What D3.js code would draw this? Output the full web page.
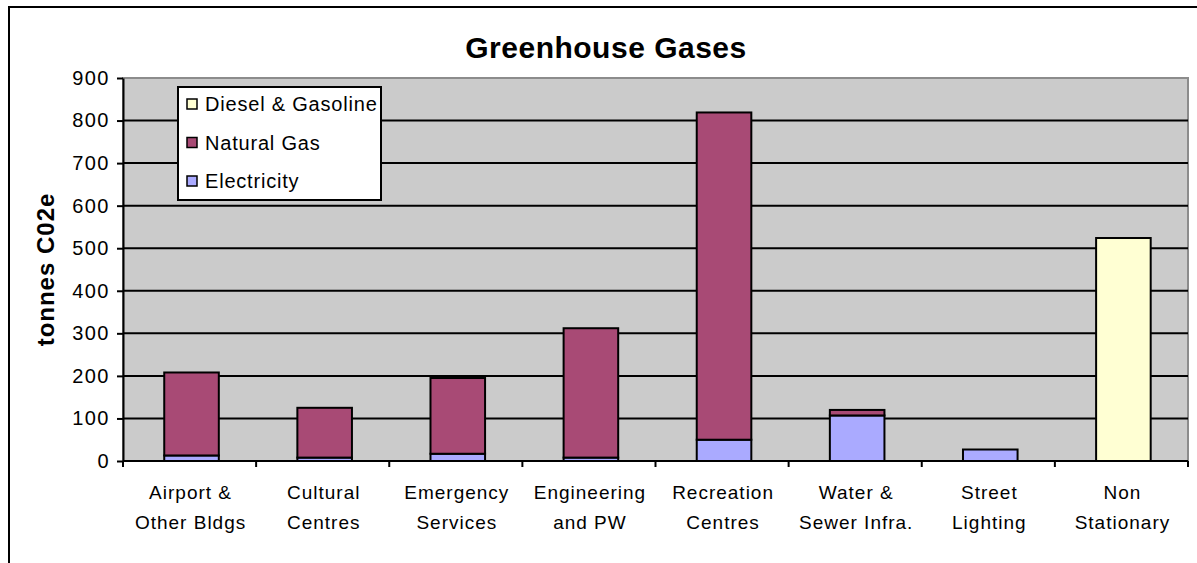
<!DOCTYPE html>
<html lang="en">
  <head>
    <meta charset="UTF-8" />
    <title>Greenhouse Gases</title>
    <style>
      body {
        margin: 0;
        background: #fff;
        font-family: "Liberation Sans", Arial, sans-serif;
      }
      .axis text {
        font-size: 19px;
        letter-spacing: 1px;
        fill: #000;
        font-family: "Liberation Sans", Arial, sans-serif;
      }
      .y-axis text {
        font-size: 20px;
        letter-spacing: 1.5px;
      }
      .axis path,
      .axis line {
        stroke: #000;
        stroke-width: 2px;
      }
    </style>
  </head>
  <body>
    <div class="chart"></div>
    <script src="https://d3js.org/d3.v7.min.js"></script>
    <script>
      // data
      var categories = [
        ["Airport &", "Other Bldgs"],
        ["Cultural", "Centres"],
        ["Emergency", "Services"],
        ["Engineering", "and PW"],
        ["Recreation", "Centres"],
        ["Water &", "Sewer Infra."],
        ["Street", "Lighting"],
        ["Non", "Stationary"]
      ];
      var electricity = [13, 8, 17, 8, 50, 107, 27, 0];
      var naturalGas = [195, 117, 178, 304, 769, 13, 0, 0];
      var dieselGasoline = [0, 0, 0, 0, 0, 0, 0, 524];
      var seriesNames = ["Electricity", "Natural Gas", "Diesel & Gasoline"];
      var seriesColors = ["#aaaaff", "#a84a75", "#ffffd3"];
      var yTicks = [0, 100, 200, 300, 400, 500, 600, 700, 800, 900];

      var W = 1197, H = 563;
      var margin = { top: 78, right: 9, bottom: 102, left: 123 };
      var width = W - margin.left - margin.right,
        height = H - margin.top - margin.bottom;

      var svg = d3
        .select(".chart")
        .append("svg")
        .attr("width", W)
        .attr("height", H);

      // outer chart border (runs off the right/bottom edges)
      svg
        .append("rect")
        .attr("x", 9)
        .attr("y", 7)
        .attr("width", W + 20)
        .attr("height", H + 20)
        .attr("fill", "none")
        .attr("stroke", "#000")
        .attr("stroke-width", 2);

      var g = svg
        .append("g")
        .attr("transform", "translate(" + margin.left + "," + margin.top + ")");

      var table = categories.map(function (c, i) {
        return {
          key: i,
          "Electricity": electricity[i],
          "Natural Gas": naturalGas[i],
          "Diesel & Gasoline": dieselGasoline[i]
        };
      });
      var stack = d3.stack().keys(seriesNames)(table);

      var x = d3
        .scaleBand()
        .domain(d3.range(categories.length))
        .range([0, width])
        .paddingInner(0.59)
        .paddingOuter(0.295)
        .align(0.525);
      var y = d3.scaleLinear().domain([0, 900]).range([height, 0]);
      var z = d3.scaleOrdinal().domain(seriesNames).range(seriesColors);

      // plot area
      g.append("rect")
        .attr("width", width)
        .attr("height", height)
        .attr("fill", "#cbcbcb")
        .attr("stroke", "#8c8c8c")
        .attr("stroke-width", 2);

      // gridlines
      g.selectAll(".grid")
        .data(yTicks.filter(function (d) { return d > 0 && d < 900; }))
        .enter()
        .append("line")
        .attr("x1", 0)
        .attr("x2", width)
        .attr("y1", function (d) { return y(d); })
        .attr("y2", function (d) { return y(d); })
        .attr("stroke", "#000")
        .attr("stroke-width", 2);

      // bars
      g.selectAll(".series")
        .data(stack)
        .enter()
        .append("g")
        .attr("class", "series")
        .attr("fill", function (d) { return z(d.key); })
        .selectAll("rect")
        .data(function (d) { return d.filter(function (s) { return s[1] > s[0]; }); })
        .enter()
        .append("rect")
        .attr("x", function (d) { return x(d.data.key); })
        .attr("y", function (d) { return y(d[1]); })
        .attr("width", x.bandwidth())
        .attr("height", function (d) { return y(d[0]) - y(d[1]); })
        .attr("stroke", "#000")
        .attr("stroke-width", 2);

      // y axis
      g.append("g")
        .attr("class", "axis y-axis")
        .call(d3.axisLeft(y).tickValues(yTicks).tickSize(6).tickSizeOuter(0).tickPadding(7));

      // x axis with ticks between categories
      var step = width / categories.length;
      var xb = g
        .append("g")
        .attr("class", "axis")
        .attr("transform", "translate(0," + height + ")");
      xb.append("line").attr("x1", 0).attr("x2", width);
      xb.selectAll(".tk")
        .data(d3.range(categories.length + 1))
        .enter()
        .append("line")
        .attr("x1", function (i) { return i * step; })
        .attr("x2", function (i) { return i * step; })
        .attr("y1", 0)
        .attr("y2", 6);
      var lbl = xb
        .selectAll(".lbl")
        .data(categories)
        .enter()
        .append("text")
        .attr("text-anchor", "middle")
        .attr("transform", function (d, i) {
          return "translate(" + ((i + 0.5) * step + 1) + ",0)";
        });
      lbl.append("tspan").attr("x", 0).attr("y", 38).text(function (d) { return d[0]; });
      lbl.append("tspan").attr("x", 0).attr("y", 68).text(function (d) { return d[1]; });

      // title
      svg
        .append("text")
        .attr("x", 606)
        .attr("y", 58)
        .attr("text-anchor", "middle")
        .style("font-size", "30px")
        .style("letter-spacing", "0.5px")
        .style("font-weight", "bold")
        .text("Greenhouse Gases");

      // y axis label
      svg
        .append("text")
        .attr("transform", "translate(54," + (margin.top + height / 2) + ") rotate(-90)")
        .attr("text-anchor", "middle")
        .style("font-size", "24px")
        .style("letter-spacing", "1px")
        .style("font-weight", "bold")
        .text("tonnes C02e");

      // legend
      var legend = svg.append("g").attr("transform", "translate(178,87)");
      legend
        .append("rect")
        .attr("width", 203)
        .attr("height", 113)
        .attr("fill", "#fff")
        .attr("stroke", "#000")
        .attr("stroke-width", 2);
      var legendOrder = seriesNames.slice().reverse();
      var item = legend
        .selectAll(".legend")
        .data(legendOrder)
        .enter()
        .append("g")
        .attr("transform", function (d, i) {
          return "translate(0," + (17 + i * 38.5) + ")";
        });
      item
        .append("rect")
        .attr("x", 9)
        .attr("y", -5)
        .attr("width", 10)
        .attr("height", 10)
        .attr("fill", function (d) { return z(d); })
        .attr("stroke", "#000")
        .attr("stroke-width", 1.5);
      item
        .append("text")
        .attr("x", 27)
        .attr("y", 7)
        .style("font-size", "20px")
        .style("letter-spacing", "0.8px")
        .text(function (d) { return d; });
    </script>
  </body>
</html>
